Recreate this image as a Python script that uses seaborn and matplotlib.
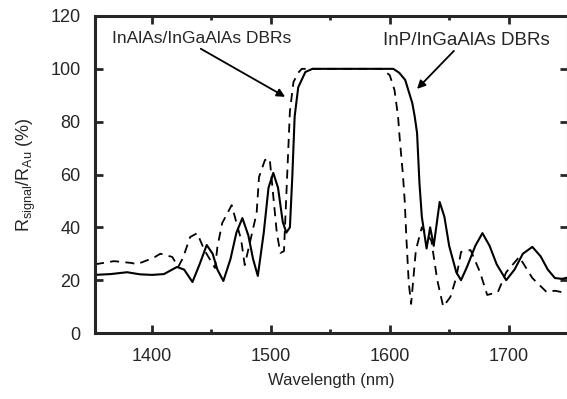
import numpy as np
import pandas as pd
import seaborn as sns
import matplotlib.pyplot as plt
from matplotlib.ticker import MultipleLocator

# InP/InGaAlAs DBRs (solid)
inp_x = [1352, 1365, 1379, 1390, 1400, 1410, 1421, 1427, 1434, 1440, 1446, 1451, 1455,
         1460, 1466, 1471, 1476, 1481, 1485, 1489, 1494, 1498, 1502, 1506, 1510, 1513,
         1516, 1518, 1520, 1523, 1529, 1535, 1603, 1608, 1613, 1619, 1621, 1623, 1625,
         1627, 1631, 1634, 1637, 1642, 1646, 1650, 1656, 1660, 1665, 1672, 1678, 1684,
         1690, 1698, 1705, 1712, 1720, 1727, 1733, 1739, 1745, 1750]
inp_y = [22, 22.3, 23, 22.2, 22, 22.3, 25, 24, 19.3, 26, 33.3, 30, 24,
         19.7, 28, 38, 43.5, 37, 28, 21.6, 38, 55, 60.6, 55, 42, 38,
         40, 59, 82, 93, 98.8, 100, 100, 98.5, 95.8, 87, 82, 75.7, 56.8,
         44, 32, 40, 33, 49.6, 44, 33, 23, 20, 25, 33, 37.8, 33,
         26, 20, 24, 30, 32.6, 29, 24, 20.8, 20.5, 21]

# InAlAs/InGaAlAs DBRs (dashed)
inalas_x = [1352, 1368, 1383, 1387, 1401, 1407, 1417, 1422, 1426, 1432, 1438, 1444, 1453,
            1455, 1459, 1467, 1475, 1478, 1488, 1490, 1495, 1499, 1505, 1508, 1511, 1516,
            1519, 1523, 1526, 1593, 1600, 1604, 1607, 1608.5, 1611, 1612.6, 1614, 1616,
            1618, 1622, 1627, 1635, 1640, 1645, 1651, 1656, 1660, 1668, 1676, 1682,
            1691, 1698, 1709, 1720, 1732, 1739, 1750]
inalas_y = [26, 27.2, 26.5, 26, 28.4, 30, 28.8, 25, 28.4, 36.3, 37.8, 31.4, 24.6,
            32.6, 41.6, 48.4, 35.2, 25.7, 45.4, 59, 65.5, 66, 37.8, 30.3, 31, 84,
            95, 98.5, 100, 100, 97.6, 92, 82, 73, 60.5, 50, 36, 19,
            11, 31.4, 40, 35, 20, 10, 13.6, 21, 30.7, 31.4, 23, 14.4,
            15.5, 23, 28.8, 20.8, 15.5, 16, 15]

sns.set_style("ticks")
plt.rcParams['font.family'] = ['Liberation Sans', 'DejaVu Sans']
plt.rcParams['mathtext.fontset'] = 'custom'
plt.rcParams['mathtext.rm'] = 'Liberation Sans'
plt.rcParams['mathtext.it'] = 'Liberation Sans'

fig = plt.figure(figsize=(5.67, 3.99), dpi=100)
ax = fig.add_axes([95 / 567, 1 - 333 / 399, (568 - 95) / 567, (333 - 16) / 399])

df_s = pd.DataFrame({"wl": inp_x, "r": inp_y})
df_d = pd.DataFrame({"wl": inalas_x, "r": inalas_y})
sns.lineplot(data=df_s, x="wl", y="r", color="black", linewidth=1.5, ax=ax)
sns.lineplot(data=df_d, x="wl", y="r", color="black", linewidth=1.3, ax=ax)
ax.lines[-1].set_dashes([5, 3.5])

ax.set_xlim(1352, 1750)
ax.set_ylim(0, 120)
ax.xaxis.set_major_locator(MultipleLocator(100))
ax.xaxis.set_minor_locator(MultipleLocator(50))
ax.yaxis.set_major_locator(MultipleLocator(20))
ax.tick_params(which="major", direction="in", top=True, right=True, length=6, width=2,
               labelsize=13, pad=10.5)
ax.tick_params(which="minor", direction="in", top=True, right=True, length=3, width=2)
for sp in ax.spines.values():
    sp.set_linewidth(2.2)

ax.set_xlabel("Wavelength (nm)", fontsize=12, labelpad=6)
ax.set_ylabel(r"R$_{\mathregular{signal}}$/R$_{\mathregular{Au}}$ (%)", fontsize=13, labelpad=9)

arrow = dict(arrowstyle="-|>", color="black", lw=1.3, shrinkA=0, shrinkB=0, mutation_scale=12)
ax.text(1366, 109.8, "InAlAs/InGaAlAs DBRs", fontsize=12.5, ha="left", va="baseline")
ax.annotate("", xy=(1512, 89.4), xytext=(1441, 107.6), arrowprops=arrow)
ax.text(1594, 109, "InP/InGaAlAs DBRs", fontsize=13.5, ha="left", va="baseline")
ax.annotate("", xy=(1623, 92.4), xytext=(1654, 106.8), arrowprops=arrow)

fig.savefig("out.png", dpi=100)
